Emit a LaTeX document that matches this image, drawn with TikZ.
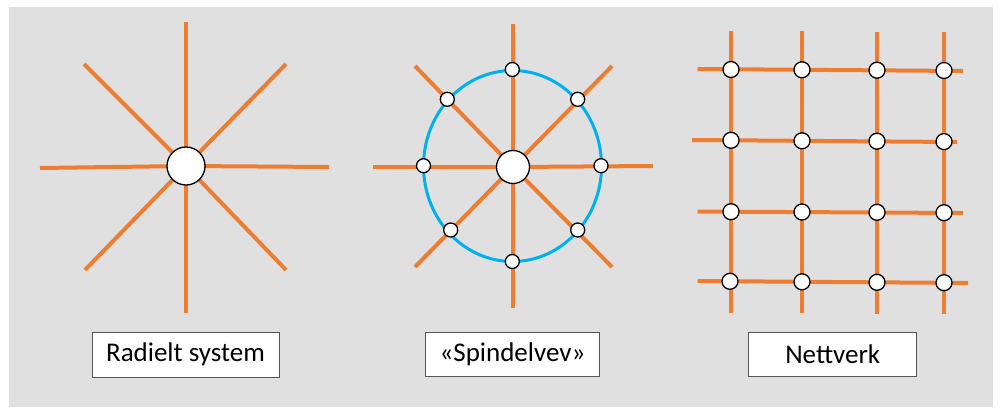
\documentclass[tikz,border=0pt]{standalone}
\usepackage{fontspec}
\setmainfont{Carlito}
\definecolor{bggray}{HTML}{E0E0E0}
\definecolor{wireor}{HTML}{ED7D31}
\definecolor{ringbl}{HTML}{00B0F0}
\definecolor{boxline}{HTML}{555555}
\tikzset{
  wire/.style={draw=wireor, line width=4pt},
  ring/.style={draw=ringbl, line width=3pt},
  hub/.style={circle, draw=black, fill=white, line width=1.3pt, inner sep=0pt},
  bighub/.style={hub, minimum size=38pt},
  midhub/.style={hub, minimum size=33pt},
  smallhub/.style={hub, minimum size=14pt},
  gridhub/.style={hub, minimum size=16pt},
  labelbox/.style={draw=boxline, fill=white, line width=0.8pt, inner sep=0pt,
    font=\fontsize{27}{32}\selectfont}
}
\begin{document}
\begin{tikzpicture}[x=1pt,y=-1pt]
\useasboundingbox (0,0) rectangle (998,407);
\fill[white] (0,0) rectangle (998,407);
\fill[bggray] (9,7) rectangle (993,407);

% ---------- Panel 1: radial ----------
\coordinate (h1) at (186,166);
\coordinate (a1n) at (186,22);
\coordinate (a1s) at (186,313);
\coordinate (a1w) at (40,168);
\coordinate (a1e) at (329,167);
\coordinate (a1nw) at (84,64);
\coordinate (a1ne) at (286,64);
\coordinate (a1sw) at (85,270);
\coordinate (a1se) at (286,270);
\foreach \e in {a1n,a1s,a1w,a1e,a1nw,a1ne,a1sw,a1se}
  \draw[wire] (h1) -- (\e);
\node[bighub] (hub1) at (h1) {};
\node[labelbox, minimum width=187pt, minimum height=45pt] (lab1) at (185.5,354.5) {Radielt system};

% ---------- Panel 2: spider web ----------
\coordinate (h2) at (513,167);
\coordinate (a2n) at (513,24);
\coordinate (a2s) at (513,308);
\coordinate (a2w) at (373,167);
\coordinate (a2e) at (653,166);
\coordinate (a2nw) at (415,66);
\coordinate (a2ne) at (612,66);
\coordinate (a2sw) at (415,267);
\coordinate (a2se) at (612,267);
\foreach \e in {a2n,a2s,a2w,a2e,a2nw,a2ne,a2sw,a2se}
  \draw[wire] (h2) -- (\e);
\draw[ring] (512.5,166) ellipse [x radius=89, y radius=95.5];
\node[midhub] (hub2) at (h2) {};
\node[smallhub] (s2n)  at (512.3,69.5) {};
\node[smallhub] (s2s)  at (512.3,261.5) {};
\node[smallhub] (s2w)  at (423.5,165.7) {};
\node[smallhub] (s2e)  at (601,165.7) {};
\node[smallhub] (s2nw) at (447.3,99.3) {};
\node[smallhub] (s2ne) at (577.7,99.3) {};
\node[smallhub] (s2sw) at (450.7,230) {};
\node[smallhub] (s2se) at (577.7,230) {};
\node[labelbox, minimum width=173.5pt, minimum height=44.5pt] (lab2) at (512.5,354.3) {«Spindelvev»};

% ---------- Panel 3: mesh network ----------
% vertical lines
\coordinate (v1t) at (731,31);  \coordinate (v1b) at (731,313);
\coordinate (v2t) at (802,31);  \coordinate (v2b) at (802,313);
\coordinate (v3t) at (877,32);  \coordinate (v3b) at (877,314);
\coordinate (v4t) at (944,32);  \coordinate (v4b) at (944,314);
\foreach \i in {1,2,3,4}
  \draw[wire] (v\i t) -- (v\i b);
% horizontal lines
\coordinate (r1l) at (697.5,69);  \coordinate (r1r) at (963,71);
\coordinate (r2l) at (692,140);   \coordinate (r2r) at (957,142);
\coordinate (r3l) at (697.5,211.5); \coordinate (r3r) at (963,213);
\coordinate (r4l) at (697.5,281); \coordinate (r4r) at (968,283);
\foreach \i in {1,2,3,4}
  \draw[wire] (r\i l) -- (r\i r);
% nodes
\node[gridhub] (g11) at (731,69.5) {};
\node[gridhub] (g12) at (802,69.8) {};
\node[gridhub] (g13) at (877,70.2) {};
\node[gridhub] (g14) at (944,70.5) {};
\node[gridhub] (g21) at (731,140.3) {};
\node[gridhub] (g22) at (802,140.8) {};
\node[gridhub] (g23) at (877,141.2) {};
\node[gridhub] (g24) at (944,141.6) {};
\node[gridhub] (g31) at (731,211.7) {};
\node[gridhub] (g32) at (802,212) {};
\node[gridhub] (g33) at (877,212.3) {};
\node[gridhub] (g34) at (944,212.7) {};
\node[gridhub] (g41) at (730,281.3) {};
\node[gridhub] (g42) at (802,281.8) {};
\node[gridhub] (g43) at (877,282.3) {};
\node[gridhub] (g44) at (944,282.7) {};
\node[labelbox, minimum width=168pt, minimum height=44.5pt] (lab3) at (832.7,354.3) {Nettverk};
\end{tikzpicture}
\end{document}
